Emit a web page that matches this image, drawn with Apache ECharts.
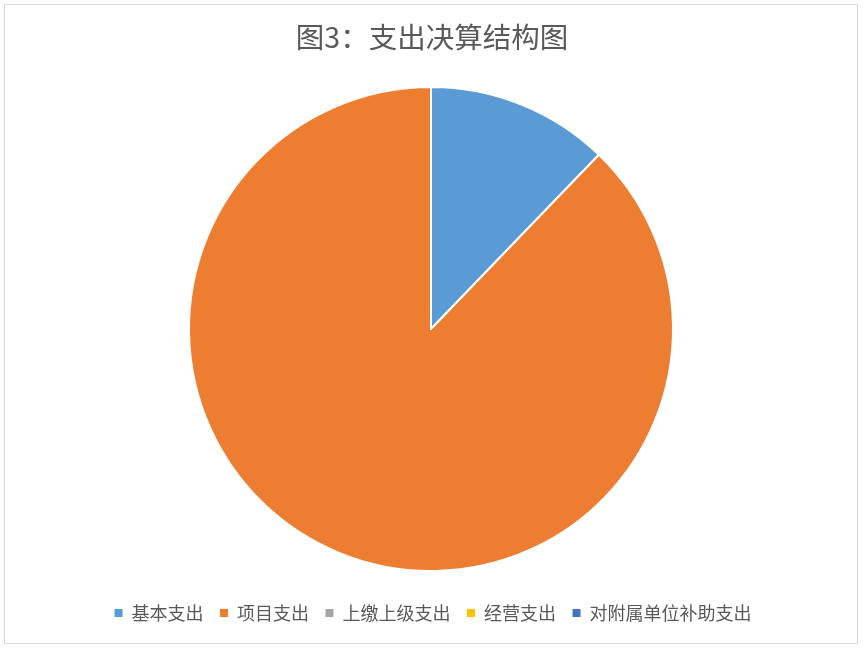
<!DOCTYPE html>
<html><head><meta charset="utf-8">
<script src="https://cdn.jsdelivr.net/npm/echarts@6/dist/echarts.min.js"></script>
<style>
html,body{margin:0;padding:0;background:#fff;}
#frame{position:absolute;left:4px;top:4px;width:854px;height:640px;border:1px solid #d9d9d9;box-sizing:border-box;}
#c{position:absolute;left:0;top:0;width:864px;height:651px;}
</style></head>
<body>
<div id="frame"></div>
<div id="c"></div>
<script>
var titleText = '图3：支出决算结构图';
var categories = ['基本支出','项目支出','上缴上级支出','经营支出','对附属单位补助支出'];
var values = [12.2, 87.8, 0, 0, 0];
var colors = ['#5B9BD5','#ED7D31','#A5A5A5','#FFC000','#4472C4'];

var chart = echarts.init(document.getElementById('c'));
var data = categories.map(function(n,i){return {name:n,value:values[i]};});
chart.setOption({
  animation:false,
  color: colors,
  title:{text:titleText,left:'center',top:18,textStyle:{fontFamily:'Noto Sans CJK SC',fontSize:28.5,fontWeight:'normal',color:'#595959'}},
  legend:{bottom:24,left:'center',icon:'rect',itemWidth:10,itemHeight:10,itemGap:14.5,
    textStyle:{fontFamily:'Noto Sans CJK SC',fontSize:18,color:'#595959',padding:[0,0,0,3]},data:categories},
  series:[{type:'pie',center:[431,329],radius:[0,242],startAngle:90,clockwise:true,
    label:{show:false},labelLine:{show:false},
    itemStyle:{borderColor:'#fff',borderWidth:2},
    emphasis:{disabled:true},
    data:data}]
});
</script>
</body></html>
